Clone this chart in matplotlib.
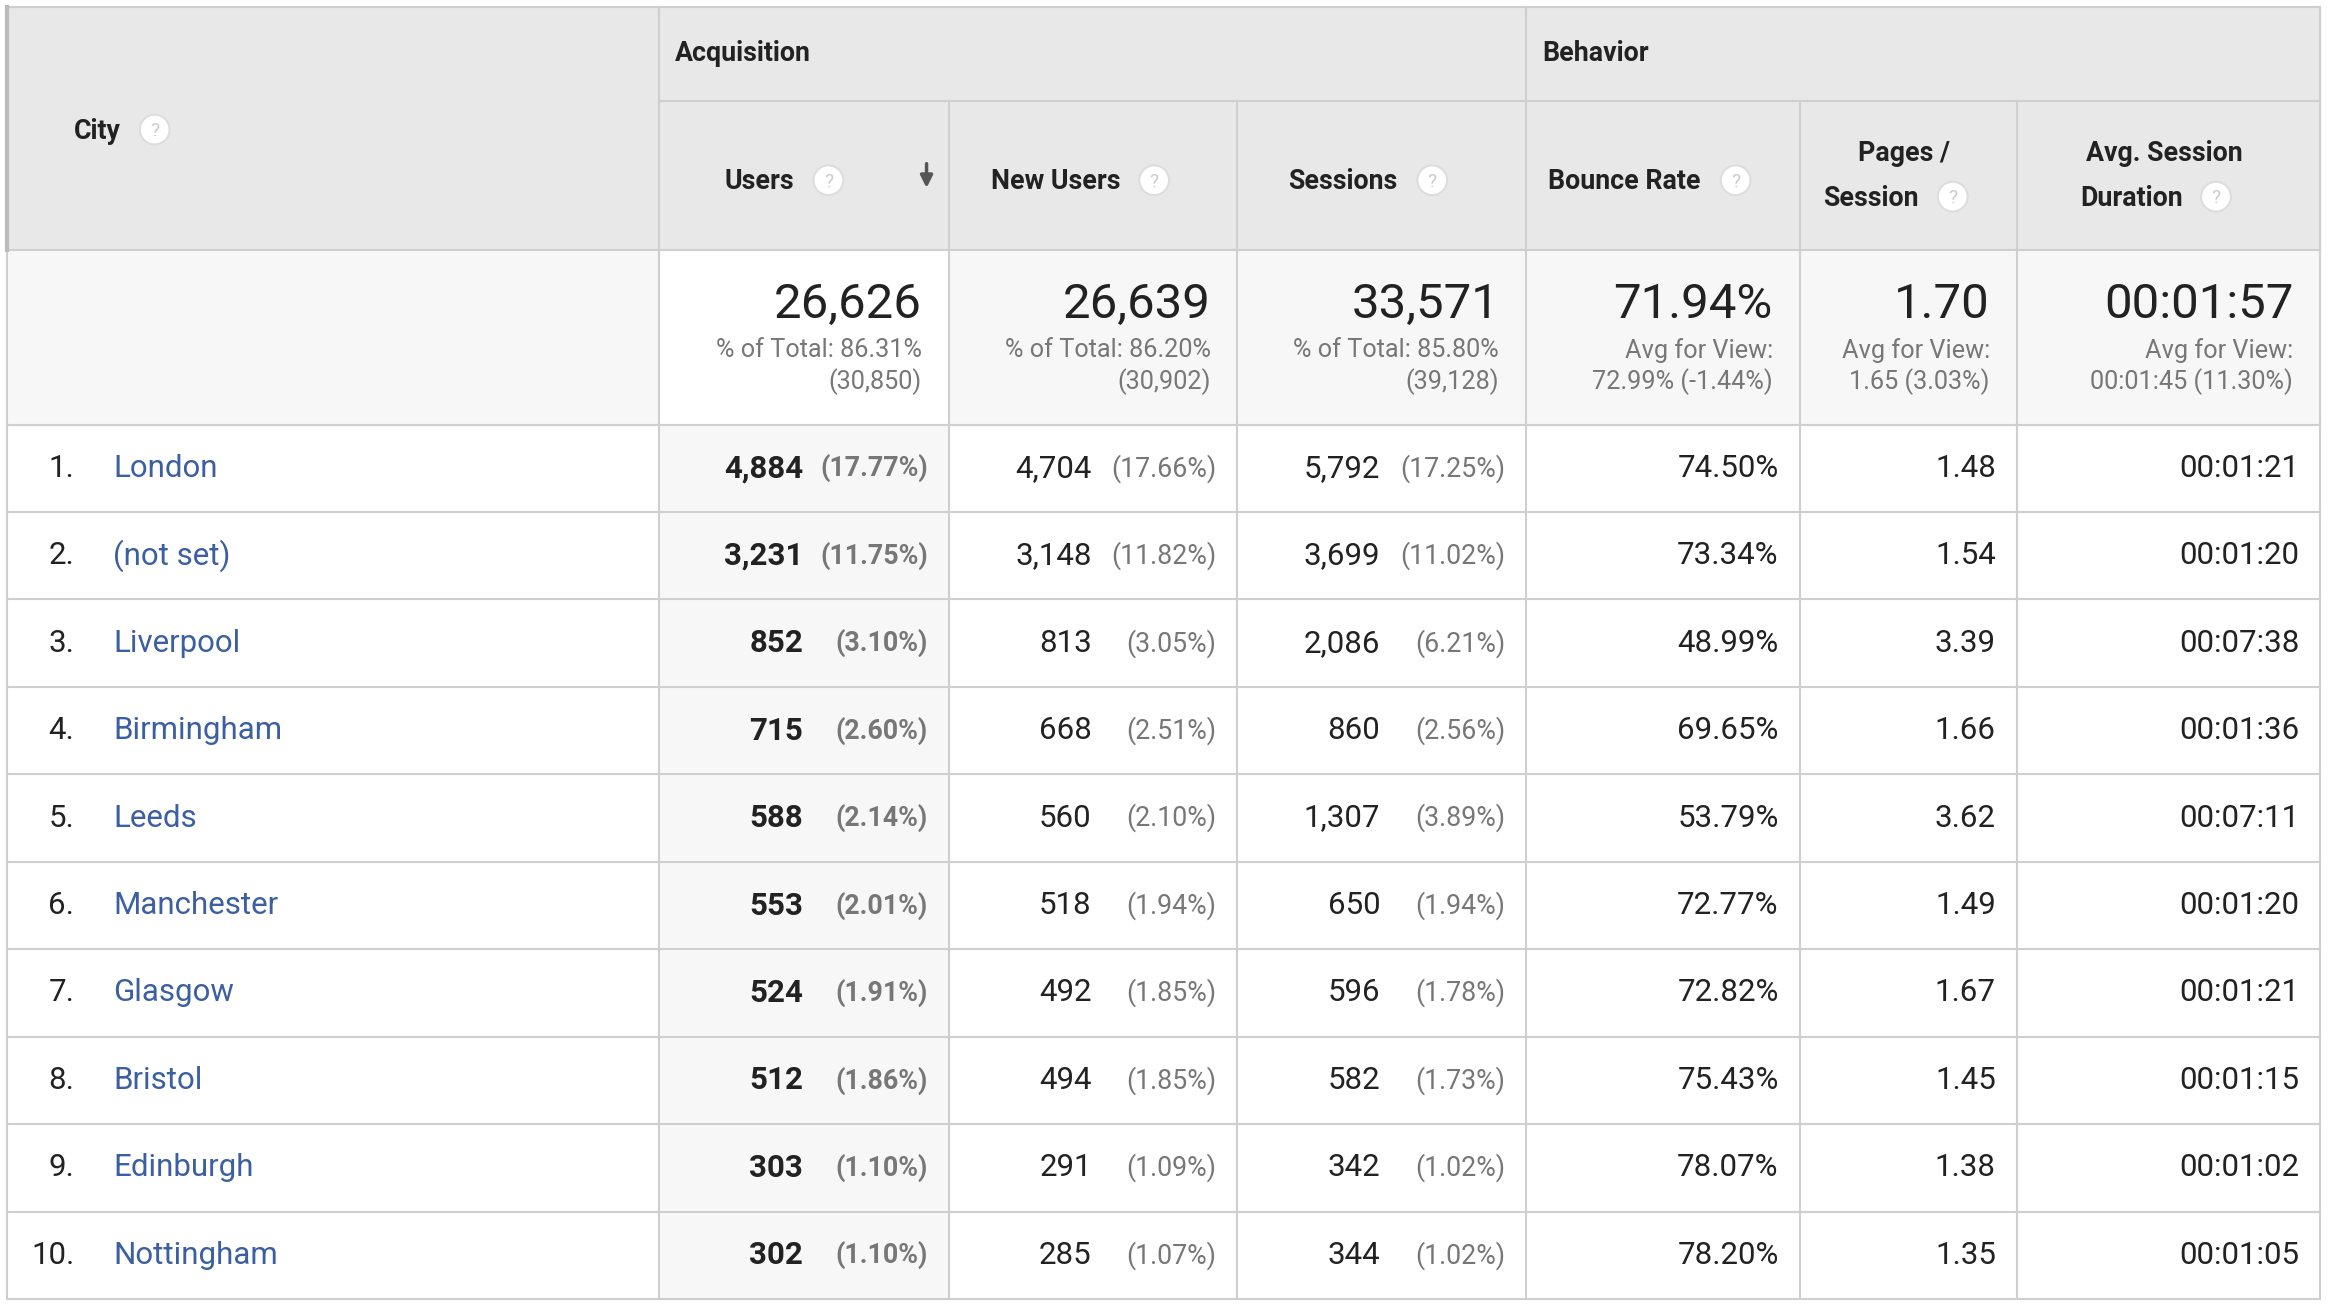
import matplotlib
matplotlib.use("Agg")
import matplotlib.pyplot as plt
from matplotlib.patches import Rectangle, Circle

cities = ["London", "(not set)", "Liverpool", "Birmingham", "Leeds", "Manchester",
          "Glasgow", "Bristol", "Edinburgh", "Nottingham"]
users = ["4,884", "3,231", "852", "715", "588", "553", "524", "512", "303", "302"]
users_pct = ["17.77%", "11.75%", "3.10%", "2.60%", "2.14%", "2.01%", "1.91%", "1.86%", "1.10%", "1.10%"]
new_users = ["4,704", "3,148", "813", "668", "560", "518", "492", "494", "291", "285"]
new_users_pct = ["17.66%", "11.82%", "3.05%", "2.51%", "2.10%", "1.94%", "1.85%", "1.85%", "1.09%", "1.07%"]
sessions = ["5,792", "3,699", "2,086", "860", "1,307", "650", "596", "582", "342", "344"]
sessions_pct = ["17.25%", "11.02%", "6.21%", "2.56%", "3.89%", "1.94%", "1.78%", "1.73%", "1.02%", "1.02%"]
bounce = ["74.50%", "73.34%", "48.99%", "69.65%", "53.79%", "72.77%", "72.82%", "75.43%", "78.07%", "78.20%"]
pages = ["1.48", "1.54", "3.39", "1.66", "3.62", "1.49", "1.67", "1.45", "1.38", "1.35"]
duration = ["00:01:21", "00:01:20", "00:07:38", "00:01:36", "00:07:11", "00:01:20",
            "00:01:21", "00:01:15", "00:01:02", "00:01:05"]
totals_main = ["26,626", "26,639", "33,571", "71.94%", "1.70", "00:01:57"]
totals_sub1 = ["% of Total: 86.31%", "% of Total: 86.20%", "% of Total: 85.80%",
               "Avg for View:", "Avg for View:", "Avg for View:"]
totals_sub2 = ["(30,850)", "(30,902)", "(39,128)", "72.99% (-1.44%)", "1.65 (3.03%)", "00:01:45 (11.30%)"]

W, H = 1568, 876
S = 1305 / H
def fs(px): return px * S * 0.72

plt.rcParams['font.family'] = ['Roboto', 'DejaVu Sans']
fig = plt.figure(figsize=(23.32, 13.05), dpi=100)
ax = fig.add_axes([0, 0, 1, 1])
ax.set_xlim(0, W); ax.set_ylim(H, 0); ax.axis('off')

xs = [5, 443, 638, 832, 1026, 1210, 1356, 1560]
hdr_bg = "#e8e8e8"; line = "#cfcfcf"; grey = "#f7f7f7"
# header backgrounds
ax.add_patch(Rectangle((5, 5), 1555, 163, color=hdr_bg, zorder=0))
# totals row
ax.add_patch(Rectangle((5, 168), 1555, 117, color=grey, zorder=0))
ax.add_patch(Rectangle((443, 168), 195, 117, color="white", zorder=0))
ax.add_patch(Rectangle((443, 285), 195, 587, color=grey, zorder=0))

rows = [285 + i * 58.7 for i in range(11)]
lw = 1.5
for y in [5, 168, 285] + rows[1:]:
    ax.plot([5, 1560], [y, y], color=line, lw=lw, zorder=1)
ax.plot([443, 1560], [68, 68], color=line, lw=lw)
for x in xs:
    y0 = 68 if x in (638, 832, 1210, 1356) else 5
    ax.plot([x, x], [y0, 872], color=line, lw=lw)
ax.plot([5, 5], [5, 168], color="#bbbbbb", lw=3)

def qmark(x, y):
    ax.add_patch(Circle((x, y), 10, facecolor="white", edgecolor="#dddddd", lw=1.5, zorder=3))
    ax.text(x, y + 1, "?", ha='center', va='center', color="#cccccc", fontsize=fs(13), zorder=4)

hb = dict(fontsize=fs(18), fontweight='bold', color="#222222", va='center')
ax.text(454, 36, "Acquisition", **hb)
ax.text(1037, 36, "Behavior", **hb)
ax.text(50, 88, "City", **hb); qmark(104, 87)
ax.text(487, 122, "Users", **hb); qmark(557, 121)
ax.annotate("", xy=(623, 128), xytext=(623, 108),
            arrowprops=dict(arrowstyle="-|>", color="#555555", lw=2.5, mutation_scale=18))
ax.text(666, 122, "New Users", **hb); qmark(776, 121)
ax.text(866, 122, "Sessions", **hb); qmark(963, 121)
ax.text(1041, 122, "Bounce Rate", **hb); qmark(1167, 121)
ax.text(1280, 103, "Pages /", ha='center', **{k: v for k, v in hb.items()})
ax.text(1258, 133, "Session", ha='center', **hb); qmark(1313, 132)
ax.text(1455, 103, "Avg. Session", ha='center', **hb)
ax.text(1433, 133, "Duration", ha='center', **hb); qmark(1490, 132)

for i in range(6):
    rx = xs[i + 2] - 18
    ax.text(rx, 205, totals_main[i], ha='right', va='center', fontsize=fs(33), color="#222222")
    ax.text(rx, 235, totals_sub1[i], ha='right', va='center', fontsize=fs(17), color="#777777")
    ax.text(rx, 256, totals_sub2[i], ha='right', va='center', fontsize=fs(17), color="#777777")

body = dict(fontsize=fs(21), color="#222222", va='center')
pct = dict(fontsize=fs(18), color="#777777", va='center')
for i in range(10):
    y = (rows[i] + rows[i + 1]) / 2
    ax.text(50, y, f"{i+1}.", ha='right', **body)
    ax.text(76, y, cities[i], ha='left', fontsize=fs(21), color="#3b5fa0", va='center')
    ax.text(540, y, users[i], ha='right', fontweight='bold', **body)
    ax.text(624, y, f"({users_pct[i]})", ha='right', fontweight='bold', **pct)
    ax.text(734, y, new_users[i], ha='right', **body)
    ax.text(818, y, f"({new_users_pct[i]})", ha='right', **pct)
    ax.text(928, y, sessions[i], ha='right', **body)
    ax.text(1012, y, f"({sessions_pct[i]})", ha='right', **pct)
    ax.text(1196, y, bounce[i], ha='right', **body)
    ax.text(1342, y, pages[i], ha='right', **body)
    ax.text(1546, y, duration[i], ha='right', **body)

fig.savefig("out.png", dpi=100, facecolor="white")
